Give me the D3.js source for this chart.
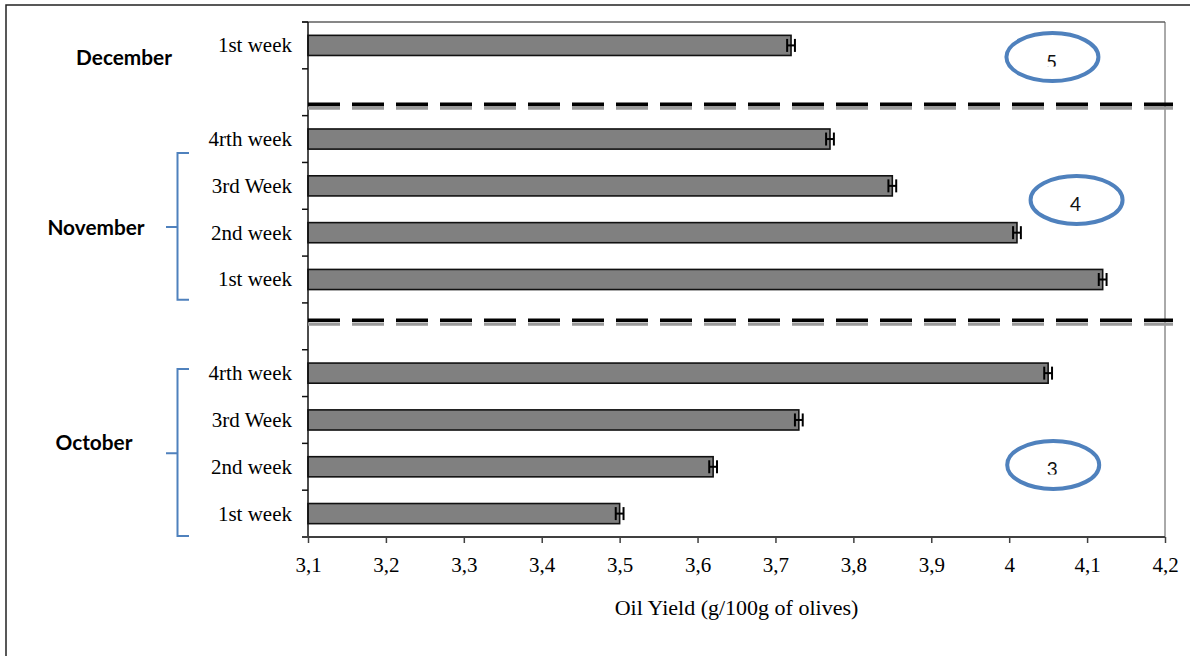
<!DOCTYPE html>
<html>
<head>
<meta charset="utf-8">
<script src="https://cdn.jsdelivr.net/npm/d3@7"></script>
<style>
  html, body { margin: 0; padding: 0; background: #fff; }
  svg { display: block; }
</style>
</head>
<body>
<svg id="chart" width="1190" height="656"></svg>
<script>
// ---- data ----
const categoryIds = ["Dec-1", "sep-1", "Nov-4", "Nov-3", "Nov-2", "Nov-1", "sep-2", "Oct-4", "Oct-3", "Oct-2", "Oct-1"];
const categoryLabels = ["1st week", "", "4rth week", "3rd Week", "2nd week", "1st week", "", "4rth week", "3rd Week", "2nd week", "1st week"];
const oilYield = [3.72, null, 3.77, 3.85, 4.01, 4.12, null, 4.05, 3.73, 3.62, 3.50];
const yieldError = [0.005, null, 0.005, 0.005, 0.005, 0.005, null, 0.005, 0.005, 0.005, 0.005];
const xTickValues = [3.1, 3.2, 3.3, 3.4, 3.5, 3.6, 3.7, 3.8, 3.9, 4.0, 4.1, 4.2];
const xTickLabels = ["3,1", "3,2", "3,3", "3,4", "3,5", "3,6", "3,7", "3,8", "3,9", "4", "4,1", "4,2"];
const monthLabels = ["December", "November", "October"];
const circleLabels = ["5", "4", "3"];
const xTitle = "Oil Yield (g/100g of olives)";

// ---- layout ----
const svg = d3.select("#chart");
const pLeft = 308, pRight = 1165, pTop = 22, pBottom = 537;
const blue = "#4F81BD";
const serif = "'Liberation Serif', 'Times New Roman', serif";
const sans = "Lato, 'Noto Sans', sans-serif";

const x = d3.scaleLinear().domain([3.1, 4.2]).range([pLeft, pRight]);
const y = d3.scaleBand().domain(categoryIds).range([pTop, pBottom]).padding(0);
const step = y.step();
const yAt = f => pTop + f * step;

const rows = categoryIds.map((id, i) => ({ id, label: categoryLabels[i], v: oilYield[i], e: yieldError[i] }));

// outer frame (left and top edges visible)
svg.append("rect").attr("x", 6).attr("y", 5).attr("width", 1300).attr("height", 800)
  .attr("fill", "none").attr("stroke", "#222").attr("stroke-width", 1.5);

// plot border top & right
svg.append("line").attr("x1", pLeft - 6).attr("x2", pRight).attr("y1", pTop).attr("y2", pTop)
  .attr("stroke", "#111").attr("stroke-width", 1.2);
svg.append("line").attr("x1", pRight).attr("x2", pRight).attr("y1", pTop).attr("y2", pBottom)
  .attr("stroke", "#555").attr("stroke-width", 1);

// bars
const barH = step * 0.43;
const bars = rows.filter(d => d.v != null);
svg.append("g").selectAll("rect").data(bars).join("rect")
  .attr("x", x(3.1))
  .attr("y", d => y(d.id) + step / 2 - barH / 2)
  .attr("width", d => x(d.v) - x(3.1))
  .attr("height", barH)
  .attr("fill", "#808080")
  .attr("stroke", "#111")
  .attr("stroke-width", 1.6);

// error bars
const eb = svg.append("g").attr("stroke", "#000").attr("stroke-width", 2);
bars.forEach(d => {
  const cy = y(d.id) + step / 2;
  const capH = 6.5;
  eb.append("line").attr("x1", x(d.v - d.e)).attr("x2", x(d.v + d.e)).attr("y1", cy).attr("y2", cy);
  eb.append("line").attr("x1", x(d.v - d.e)).attr("x2", x(d.v - d.e)).attr("y1", cy - capH).attr("y2", cy + capH);
  eb.append("line").attr("x1", x(d.v + d.e)).attr("x2", x(d.v + d.e)).attr("y1", cy - capH).attr("y2", cy + capH);
});

// y axis line, ticks at band boundaries, labels
svg.append("line").attr("x1", pLeft).attr("x2", pLeft).attr("y1", pTop).attr("y2", pBottom)
  .attr("stroke", "#111").attr("stroke-width", 1.5);
const boundaries = categoryIds.map(id => y(id)).concat([pBottom]);
svg.append("g").selectAll("line").data(boundaries).join("line")
  .attr("x1", pLeft - 6).attr("x2", pLeft).attr("y1", d => d).attr("y2", d => d)
  .attr("stroke", "#111").attr("stroke-width", 1.5);
svg.append("g").selectAll("text").data(rows.filter(d => d.label)).join("text")
  .attr("x", pLeft - 16)
  .attr("y", d => y(d.id) + step / 2)
  .attr("dy", "0.33em")
  .attr("text-anchor", "end")
  .style("font-family", serif).style("font-size", "21px")
  .attr("fill", "#000")
  .text(d => d.label);

// x axis
const xAxis = d3.axisBottom(x).tickValues(xTickValues).tickFormat((d, i) => xTickLabels[i])
  .tickSize(6).tickSizeOuter(0).tickPadding(14);
const gx = svg.append("g").attr("transform", `translate(0,${pBottom})`).call(xAxis);
gx.select(".domain").remove();
gx.selectAll(".tick line").attr("stroke", "#404040").attr("stroke-width", 1.5);
gx.selectAll(".tick text").style("font-family", serif).style("font-size", "21px").attr("fill", "#000");
svg.append("line").attr("x1", pLeft - 6).attr("x2", pRight).attr("y1", pBottom).attr("y2", pBottom)
  .attr("stroke", "#404040").attr("stroke-width", 2.2);

// axis title
svg.append("text").attr("x", (pLeft + pRight) / 2).attr("y", 615).attr("text-anchor", "middle")
  .style("font-family", serif).style("font-size", "22px").attr("fill", "#000").text(xTitle);

// dashed separators
const separators = [1.76, 6.37];
separators.forEach(f => {
  const yy = yAt(f);
  svg.append("line").attr("x1", pLeft).attr("x2", pRight + 8).attr("y1", yy + 3.8).attr("y2", yy + 3.8)
    .attr("stroke", "#9a9a9a").attr("stroke-width", 3.2).attr("stroke-dasharray", "32,12");
  svg.append("line").attr("x1", pLeft).attr("x2", pRight + 8).attr("y1", yy).attr("y2", yy)
    .attr("stroke", "#000").attr("stroke-width", 3.6).attr("stroke-dasharray", "32,12");
});

// month labels
const monthPos = [[124, 0.77], [96, 4.40], [94, 8.99]];
svg.append("g").selectAll("text").data(monthLabels).join("text")
  .attr("x", (d, i) => monthPos[i][0])
  .attr("y", (d, i) => yAt(monthPos[i][1]))
  .attr("dy", "0.35em")
  .attr("text-anchor", "middle")
  .style("font-family", sans).style("font-weight", "bold").style("font-size", "20.8px")
  .attr("fill", "#000")
  .text(d => d);

// braces
const braces = [[2.80, 4.38, 5.93], [7.41, 9.21, 10.98]];
braces.forEach(([t, m, b]) => {
  const yt = yAt(t), ym = yAt(m), yb = yAt(b);
  const p = d3.path();
  p.moveTo(189, yt); p.lineTo(177.5, yt); p.lineTo(177.5, yb); p.lineTo(189, yb);
  p.moveTo(177.5, ym); p.lineTo(166, ym);
  svg.append("path").attr("d", p.toString()).attr("fill", "none")
    .attr("stroke", blue).attr("stroke-width", 2);
});

// circled numbers
const circles = [
  { label: circleLabels[0], xv: 4.0555, f: 0.75, clip: true },
  { label: circleLabels[1], xv: 4.0865, f: 3.80, clip: false },
  { label: circleLabels[2], xv: 4.0565, f: 9.46, clip: true }
];
const defs = svg.append("defs");
circles.forEach((c, i) => {
  const cx = x(c.xv), cy = yAt(c.f);
  svg.append("ellipse").attr("cx", cx).attr("cy", cy).attr("rx", 46).attr("ry", 24)
    .attr("fill", "#fff").attr("stroke", blue).attr("stroke-width", 4);
  const t = svg.append("text").attr("x", cx - 1).attr("y", cy + 11.5).attr("text-anchor", "middle")
    .style("font-family", sans).style("font-size", "19px").attr("fill", "#111").text(c.label);
  if (c.clip) {
    defs.append("clipPath").attr("id", "clip" + i).append("rect")
      .attr("x", cx - 30).attr("y", cy - 20).attr("width", 60).attr("height", 29.5);
    t.attr("clip-path", `url(#clip${i})`);
  }
});
</script>
</body>
</html>
